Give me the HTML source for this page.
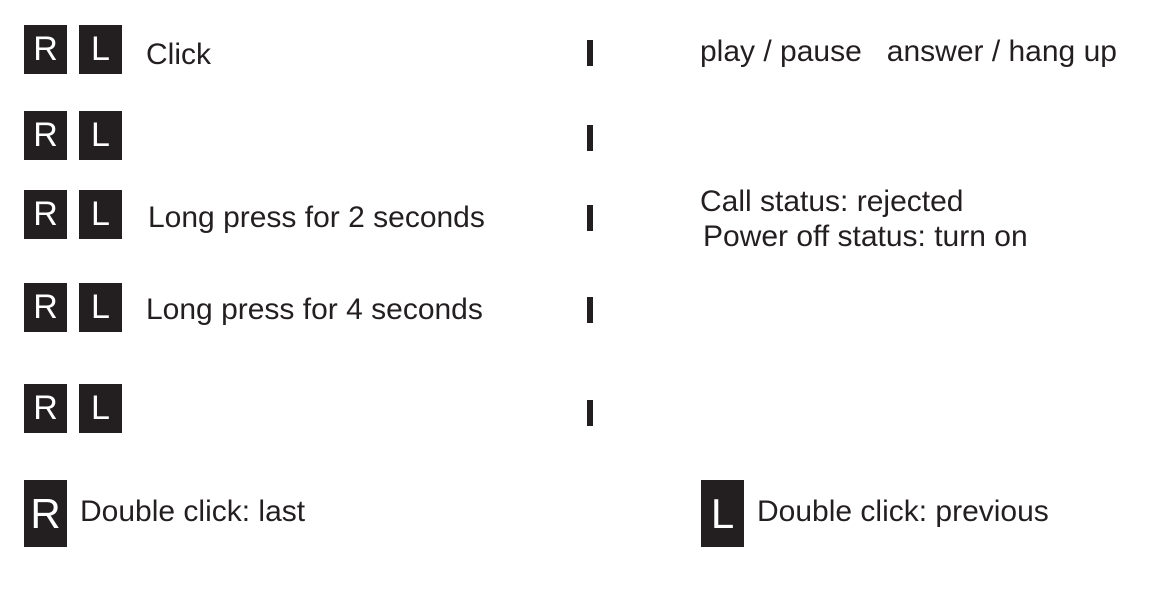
<!DOCTYPE html>
<html><head><meta charset="utf-8"><style>
body{margin:0;width:1168px;height:598px;background:#fff;position:relative;overflow:hidden;font-family:"Liberation Sans",sans-serif;color:#231f20}
.b{position:absolute;background:#231f20;color:#fff;width:43px;height:49px;font-size:34px;line-height:49px;text-align:center}
.t{position:absolute;font-size:30px;line-height:32px;white-space:nowrap}
.v{position:absolute;left:587px;width:6px;height:26px;background:#231f20}
</style></head><body>
<div class="b" style="left:24px;top:25px">R</div><div class="b" style="left:79px;top:25px">L</div>
<div class="t" style="left:146px;top:39px">Click</div>
<div class="v" style="top:40px"></div>
<div class="t" style="left:700px;top:36px">play / pause&nbsp;&nbsp;&nbsp;answer / hang up</div>

<div class="b" style="left:24px;top:111px">R</div><div class="b" style="left:79px;top:111px">L</div>
<div class="v" style="top:125px"></div>

<div class="b" style="left:24px;top:190px">R</div><div class="b" style="left:79px;top:190px">L</div>
<div class="t" style="left:148px;top:202px">Long press for 2 seconds</div>
<div class="v" style="top:205px"></div>
<div class="t" style="left:700px;top:186px">Call status: rejected</div>
<div class="t" style="left:703px;top:221px">Power off status: turn on</div>

<div class="b" style="left:24px;top:283px">R</div><div class="b" style="left:79px;top:283px">L</div>
<div class="t" style="left:146px;top:294px">Long press for 4 seconds</div>
<div class="v" style="top:297px"></div>

<div class="b" style="left:24px;top:384px">R</div><div class="b" style="left:79px;top:384px">L</div>
<div class="v" style="top:400px"></div>

<div class="b" style="left:24px;top:480px;height:67px;line-height:67px;font-size:42px">R</div>
<div class="t" style="left:80px;top:496px">Double click: last</div>
<div class="b" style="left:701px;top:480px;height:67px;line-height:67px;font-size:42px">L</div>
<div class="t" style="left:757px;top:496px">Double click: previous</div>
</body></html>
